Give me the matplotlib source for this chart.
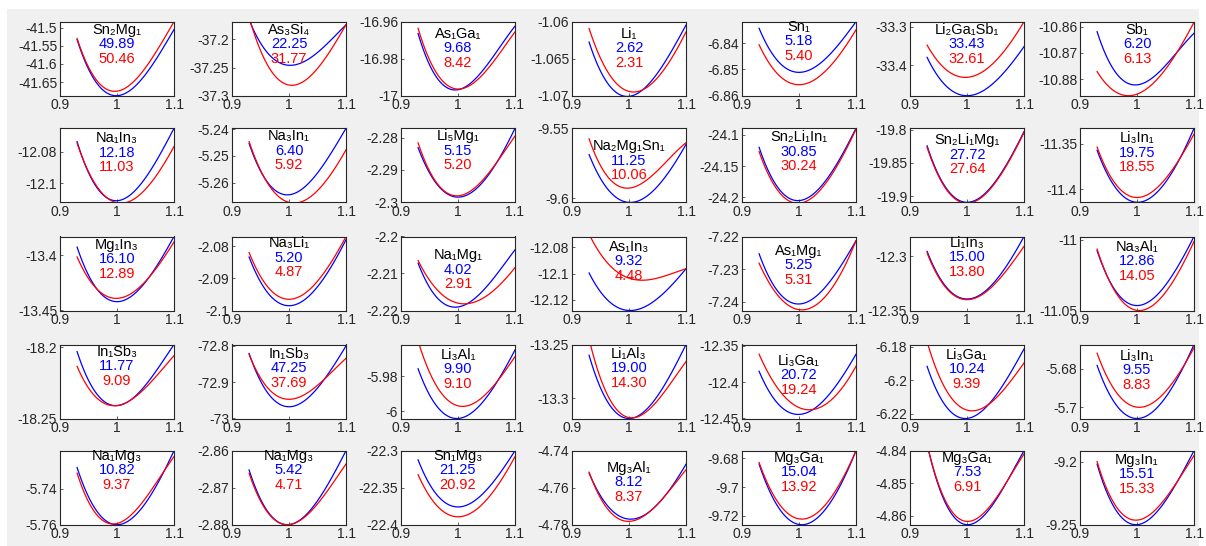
import numpy as np
import matplotlib.pyplot as plt
from matplotlib.patches import Rectangle

plt.rcParams['font.family'] = ['Liberation Sans', 'DejaVu Sans']

# panel titles, row by row
names = ['Sn₂Mg₁', 'As₃Si₄', 'As₁Ga₁', 'Li₁', 'Sn₁', 'Li₂Ga₁Sb₁', 'Sb₁',
         'Na₁In₃', 'Na₃In₁', 'Li₅Mg₁', 'Na₂Mg₁Sn₁', 'Sn₂Li₁In₁', 'Sn₂Li₁Mg₁', 'Li₃In₁',
         'Mg₁In₃', 'Na₃Li₁', 'Na₁Mg₁', 'As₁In₃', 'As₁Mg₁', 'Li₁In₃', 'Na₃Al₁',
         'In₁Sb₃', 'In₁Sb₃', 'Li₃Al₁', 'Li₁Al₃', 'Li₃Ga₁', 'Li₃Ga₁', 'Li₃In₁',
         'Na₁Mg₃', 'Na₁Mg₃', 'Sn₁Mg₃', 'Mg₃Al₁', 'Mg₃Ga₁', 'Mg₃Ga₁', 'Mg₃In₁']

# numbers printed in each panel
k_blue = [49.89, 22.25, 9.68, 2.62, 5.18, 33.43, 6.20,
          12.18, 6.40, 5.15, 11.25, 30.85, 27.72, 19.75,
          16.10, 5.20, 4.02, 9.32, 5.25, 15.00, 12.86,
          11.77, 47.25, 9.90, 19.00, 20.72, 10.24, 9.55,
          10.82, 5.42, 21.25, 8.12, 15.04, 7.53, 15.51]
k_red = [50.46, 31.77, 8.42, 2.31, 5.40, 32.61, 6.13,
         11.03, 5.92, 5.20, 10.06, 30.24, 27.64, 18.55,
         12.89, 4.87, 2.91, 4.48, 5.31, 13.80, 14.05,
         9.09, 37.69, 9.10, 14.30, 19.24, 9.39, 8.83,
         9.37, 4.71, 20.92, 8.37, 13.92, 6.91, 15.33]

# y limits (bottom, top) and y ticks of each panel
y_lims = [(-41.687, -41.484), (-37.30, -37.1685), (-17.0, -16.96), (-1.07, -1.06),
          (-6.86, -6.8318), (-33.48, -33.287), (-10.8863, -10.8581),
          (-12.112, -12.0653), (-5.2674, -5.2396), (-2.30, -2.2771), (-9.6029, -9.55),
          (-24.208, -24.0893), (-19.9095, -19.7975), (-11.4143, -11.3329),
          (-13.45, -13.383), (-2.10, -2.0769), (-2.22, -2.20), (-12.128, -12.0718),
          (-7.2427, -7.22), (-12.35, -12.2818), (-11.05, -10.9977),
          (-18.25, -18.198), (-73.0, -72.796), (-6.004, -5.9619), (-13.3186, -13.25),
          (-12.45, -12.348), (-6.223, -6.1786), (-5.7058, -5.6675),
          (-5.76, -5.7187), (-2.88, -2.86), (-22.4, -22.3), (-4.78, -4.74),
          (-9.7261, -9.6748), (-4.8627, -4.84), (-9.25, -9.1914)]
y_ticks = [[-41.65, -41.6, -41.55, -41.5], [-37.3, -37.25, -37.2], [-17, -16.98, -16.96],
           [-1.07, -1.065, -1.06], [-6.86, -6.85, -6.84], [-33.4, -33.3],
           [-10.88, -10.87, -10.86],
           [-12.1, -12.08], [-5.26, -5.25, -5.24], [-2.3, -2.29, -2.28], [-9.6, -9.55],
           [-24.2, -24.15, -24.1], [-19.9, -19.85, -19.8], [-11.4, -11.35],
           [-13.45, -13.4], [-2.1, -2.09, -2.08], [-2.22, -2.21, -2.2],
           [-12.12, -12.1, -12.08], [-7.24, -7.23, -7.22], [-12.35, -12.3], [-11.05, -11],
           [-18.25, -18.2], [-73, -72.9, -72.8], [-6, -5.98], [-13.3, -13.25],
           [-12.45, -12.4, -12.35], [-6.22, -6.2, -6.18], [-5.7, -5.68],
           [-5.76, -5.74], [-2.88, -2.87, -2.86], [-22.4, -22.35, -22.3],
           [-4.78, -4.76, -4.74], [-9.72, -9.7, -9.68], [-4.86, -4.85, -4.84], [-9.25, -9.2]]
x_ticks = [0.9, 1.0, 1.1]

x_start, x_end = 0.93, 1.1
blue_start = [-41.533, -37.165, -16.9664, -1.06275, -6.8343, -33.380, -10.8619,
              -12.0737, -5.2453, -2.2831, -9.5688, -24.1198, -19.824, -11.3571,
              -13.3926, -2.0833, -2.2072, -12.0995, -7.2253, -12.2955, -11.0077,
              -18.203, -72.8207, -5.9757, -13.26, -12.3849, -6.1917, -5.6783,
              -5.7281, -2.8652, -22.3124, -4.7521, -9.6841, -4.838, -9.2021]
blue_xmin = [0.9986, 1.002, 0.995, 0.997, 1.0, 1.0, 0.997,
             0.9986, 0.997, 1.0, 1.002, 0.998, 1.0, 1.001,
             1.0, 1.0, 0.995, 1.002, 0.999, 1.0, 1.0,
             0.998, 1.0, 0.998, 1.0, 0.9986, 0.997, 1.0,
             1.0, 0.997, 1.0, 1.003, 1.005, 1.001, 0.998]
blue_ymin = [-41.687, -37.246, -16.9969, -1.0701, -6.8511, -33.48, -10.8822,
             -12.111, -5.2646, -2.2984, -9.603, -24.2053, -19.9095, -11.4143,
             -13.442, -2.0985, -2.2191, -12.128, -7.2407, -12.3394, -11.0465,
             -18.241, -72.9676, -6.004, -13.3186, -12.4444, -6.223, -5.7058,
             -5.76, -2.88, -22.376, -4.777, -9.7261, -4.8627, -9.25]
blue_end = [-41.5055, -37.174, -16.9624, -1.06046, -6.8318, -33.352, -10.8625,
            -12.0653, -5.2396, -2.2771, -9.5615, -24.0893, -19.8025, -11.3329,
            -13.383, -2.0779, -2.2036, -12.0963, -7.2213, -12.2818, -10.9977,
            -18.198, -72.8, -5.965, -13.25, -12.3614, -6.1813, -5.6675,
            -5.7187, -2.86, -22.3, -4.7473, -9.6748, -4.84, -9.1914]

red_start = [-41.530, -37.160, -16.9636, -1.06092, -6.8406, -33.348, -10.8771,
             -12.0747, -5.2446, -2.2816, -9.5575, -24.1267, -19.8264, -11.3536,
             -13.4015, -2.0819, -2.2065, -12.07, -7.2282, -12.297, -11.0066,
             -18.2134, -72.8234, -5.960, -13.245, -12.3614, -6.177, -5.672,
             -5.7312, -2.8661, -22.3324, -4.7516, -9.683, -4.838, -9.2]
red_xmin = [0.996, 1.005, 1.0006, 1.008, 1.0, 0.997, 0.985,
            1.007, 1.009, 0.998, 0.997, 0.998, 1.0, 1.0,
            0.9986, 1.0, 1.011, 1.023, 1.005, 1.0, 1.004,
            0.995, 1.0, 1.008, 1.005, 1.018, 1.009, 1.004,
            0.993, 0.997, 1.0, 0.999, 1.005, 1.001, 0.998]
red_ymin = [-41.675, -37.2815, -16.9964, -1.0695, -6.8558, -33.4322, -10.8863,
            -12.1126, -5.2677, -2.298, -9.5928, -24.2096, -19.911, -11.409,
            -13.439, -2.0965, -2.2182, -12.105, -7.2425, -12.340, -11.05,
            -18.241, -72.947, -5.9971, -13.318, -12.438, -6.2184, -5.70,
            -5.7596, -2.88, -22.3893, -4.7782, -9.7222, -4.8617, -9.2464]
red_end = [-41.484, -37.174, -16.9655, -1.06138, -6.8349, -33.287, -10.8583,
           -12.0768, -5.2477, -2.2795, -9.5603, -24.091, -19.804, -11.3393,
           -13.388, -2.0769, -2.2084, -12.0963, -7.2213, -12.2909, -11.0012,
           -18.2059, -72.834, -5.9688, -13.2659, -12.378, -6.1897, -5.6692,
           -5.722, -2.8636, -22.308, -4.7503, -9.6748, -4.841, -9.1953]

# layout in pixels (figure 1206 x 546)
W, H = 1206, 546
col_left = [60, 232, 401, 572, 742, 910, 1080]
row_top = [21.7, 128.3, 236.5, 344.5, 450.7]
ax_w, ax_h = 114, 74
label_drop = [8, 8, 12, 12, 5, 8, 8,
              10, 8, 8, 18, 9, 12, 10,
              8, 7, 19, 10, 14, 6, 10,
              7, 9, 10, 9, 16, 10, 11,
              5, 5, 5, 17, 7, 7, 9]
line_gap = 14.5
grey = '#262626'


def curve(y0, xm, ym, y1, n=100):
    # smooth curve through the read start point, minimum and end point
    d0, d1 = x_start - xm, x_end - xm
    A = np.array([[d0**2, d0**3], [d1**2, d1**3]])
    a, b = np.linalg.solve(A, [y0 - ym, y1 - ym])
    x = np.linspace(x_start, x_end, n)
    d = x - xm
    return x, ym + a * d**2 + b * d**3


fig = plt.figure(figsize=(W / 100, H / 100), dpi=100, facecolor='white')
# grey window area behind all panels
fig.patches.append(Rectangle((7 / W, 0), 1 - 14 / W, 1 - 9 / H, transform=fig.transFigure,
                             facecolor='#f0f0f0', edgecolor='none', zorder=-10))

for i, name in enumerate(names):
    r, c = divmod(i, 7)
    left, top = col_left[c], row_top[r]
    ax = fig.add_axes([left / W, 1 - (top + ax_h) / H, ax_w / W, ax_h / H])
    ax.set_zorder(1)

    xb, yb = curve(blue_start[i], blue_xmin[i], blue_ymin[i], blue_end[i])
    xr, yr = curve(red_start[i], red_xmin[i], red_ymin[i], red_end[i])
    ax.plot(xb, yb, color='blue', lw=0.9)
    ax.plot(xr, yr, color='red', lw=0.9)

    ax.set_xlim(0.9, 1.1)
    ax.set_ylim(*y_lims[i])
    ax.set_xticks(x_ticks)
    ax.set_xticklabels(['%g' % v for v in x_ticks])
    ax.set_yticks(y_ticks[i])
    ax.set_yticklabels(['%g' % v for v in y_ticks[i]])
    ax.tick_params(labelsize=10, colors=grey, direction='in', length=2, width=0.5, pad=2)
    for s in ax.spines.values():
        s.set_color(grey)
        s.set_linewidth(0.8)

    drop = label_drop[i]
    for k, (txt, col) in enumerate([(name, 'black'), ('%.2f' % k_blue[i], 'blue'),
                                    ('%.2f' % k_red[i], 'red')]):
        ax.annotate(txt, xy=(0.5, 1), xycoords='axes fraction',
                    xytext=(0, -(drop + k * line_gap) * 0.72), textcoords='offset points',
                    ha='center', va='center', fontsize=10.5, color=col)

fig.savefig('out.png', dpi=100, facecolor=fig.get_facecolor())
